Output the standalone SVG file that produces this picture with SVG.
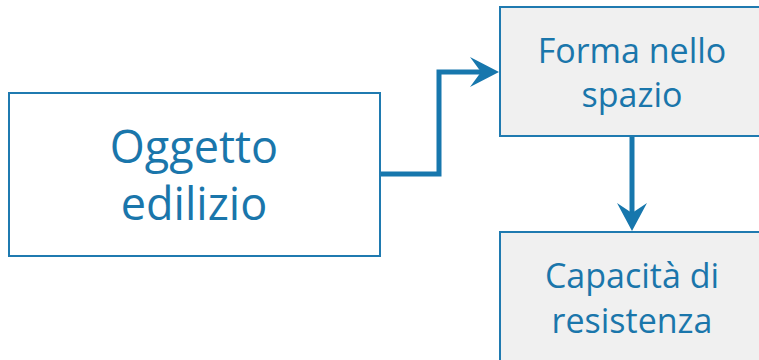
<svg xmlns="http://www.w3.org/2000/svg" width="759" height="360" viewBox="0 0 759 360">
<defs>
<style>
.box{stroke:#1f7ab0;stroke-width:2}
.white{fill:#ffffff}
.grey{fill:#f0f0f0}
.t{font-family:"Open Sans","Noto Sans",sans-serif;fill:#1a76ab;text-anchor:middle}
.big{font-size:45px}
.small{font-size:34px}
.conn{fill:none;stroke:#1777ad;stroke-width:5}
.head{fill:#1777ad}
</style>
</defs>
<rect width="759" height="360" fill="#ffffff"/>
<g id="connectors">
<polyline class="conn" points="380,174 439,174 439,72 484,72"/>
<path class="head" d="M499,72 L470,57 L481,72 L470,87 Z"/>
<line class="conn" x1="632" y1="136" x2="632" y2="216"/>
<path class="head" d="M632,231 L617,203 L632,213 L647,203 Z"/>
</g>
<g id="oggetto">
<rect class="box white" x="9" y="93" width="371" height="163"/>
<text class="t big" x="194" y="163">Oggetto</text>
<text class="t big" x="194" y="220">edilizio</text>
</g>
<g id="forma">
<rect class="box grey" x="500" y="7" width="270" height="129"/>
<text class="t small" x="632" y="63">Forma nello</text>
<text class="t small" x="632" y="107">spazio</text>
</g>
<g id="capacita">
<rect class="box grey" x="500" y="232" width="270" height="140"/>
<text class="t small" x="632" y="288">Capacità di</text>
<text class="t small" x="632" y="333">resistenza</text>
</g>
</svg>
